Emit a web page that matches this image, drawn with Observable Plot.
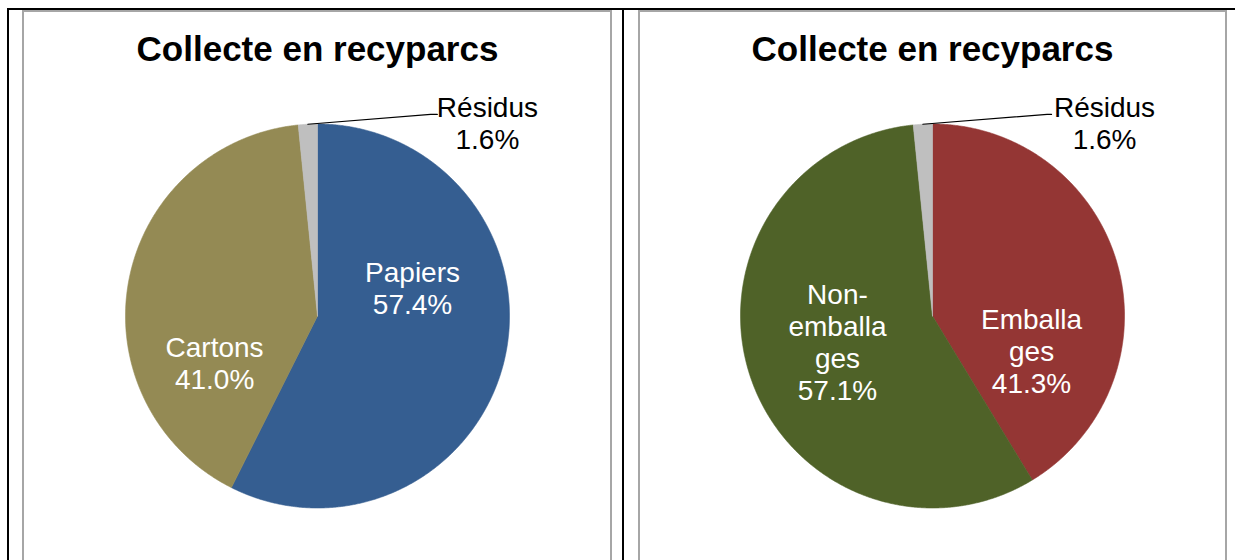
<!DOCTYPE html>
<html><head><meta charset="utf-8">
<script src="https://cdn.jsdelivr.net/npm/d3@7"></script>
<script src="https://cdn.jsdelivr.net/npm/@observablehq/plot@0.6"></script>
<style>
body{margin:0;background:#fff;width:1237px;height:560px;overflow:hidden;position:relative;font-family:"Liberation Sans",Arial,sans-serif}
.frame{position:absolute;box-sizing:content-box}
#chart{position:absolute;left:0;top:0}
</style></head><body>
<div class="frame" style="left:7px;top:8px;width:1226px;height:600px;border-top:2px solid #000;border-left:2px solid #000"></div>
<div class="frame" style="left:622px;top:8px;width:2px;height:600px;background:#000"></div>
<div class="frame" style="left:22px;top:10px;width:586px;height:600px;border:2px solid #a6a6a6;border-bottom:none"></div>
<div class="frame" style="left:638px;top:10px;width:585px;height:600px;border:2px solid #a6a6a6;border-bottom:none"></div>
<div id="chart"></div>
<script>
// ---- data ----
const titles = ["Collecte en recyparcs", "Collecte en recyparcs"];
const leftCategories = ["Papiers", "Cartons", "Résidus"];
const leftLabels = ["Papiers", "Cartons", "Résidus"];
const leftValues = [57.4, 41.0, 1.6];
const rightCategories = ["Emballages", "Non-emballages", "Résidus"];
const rightLabels = ["Emballa\nges", "Non-\nemballa\nges", "Résidus"];
const rightValues = [41.3, 57.1, 1.6];
const leftColors = ["#355E91", "#948A54", "#BFBFBF"];
const rightColors = ["#943634", "#4F6228", "#BFBFBF"];

// ---- layout ----
const W = 1237, H = 560;
const panels = [
  {cats: leftCategories, labels: leftLabels, values: leftValues, colors: leftColors, title: titles[0],
   cx: 317, cy: 315.5, r: 192,
   labelPos: [[0.495, -0.146], [-0.536, 0.242], [0.885, -1.008]],
   labelFill: ["white", "white", "black"],
   leader: [[0.589, -1.05], [0.624, -1.05]]},
  {cats: rightCategories, labels: rightLabels, values: rightValues, colors: rightColors, title: titles[1],
   cx: 932, cy: 315.5, r: 192,
   labelPos: [[0.516, 0.180], [-0.495, 0.135], [0.896, -1.008]],
   labelFill: ["white", "white", "black"],
   leader: [[0.597, -1.05], [0.62, -1.05]]}
];

const slicePts = [], labelRows = [], leaderPts = [], titleRows = [];
panels.forEach((p, pi) => {
  const arcs = d3.pie().sort(null).value(d => d)(p.values);
  arcs.forEach((a, i) => {
    const key = pi + "-" + i;
    slicePts.push({key, x: p.cx, y: p.cy, color: p.colors[i]});
    const n = Math.max(2, Math.ceil((a.endAngle - a.startAngle) / 0.005));
    for (let k = 0; k <= n; k++) {
      const t = a.startAngle + (a.endAngle - a.startAngle) * k / n;
      slicePts.push({key, x: p.cx + p.r * Math.sin(t), y: p.cy - p.r * Math.cos(t), color: p.colors[i]});
    }
    slicePts.push({key, x: p.cx, y: p.cy, color: p.colors[i]});
    const [fx, fy] = p.labelPos[i];
    labelRows.push({x: p.cx + fx * p.r, y: p.cy + fy * p.r,
      text: p.labels[i] + "\n" + p.values[i].toFixed(1) + "%", fill: p.labelFill[i]});
    if (i === arcs.length - 1) {
      const mid = (a.startAngle + a.endAngle) / 2;
      leaderPts.push({key: pi, x: p.cx + p.r * Math.sin(mid), y: p.cy - p.r * Math.cos(mid)});
      p.leader.forEach(([lx, ly]) => leaderPts.push({key: pi, x: p.cx + lx * p.r, y: p.cy + ly * p.r}));
    }
  });
  titleRows.push({x: p.cx, y: 60, text: p.title});
});

const chart = Plot.plot({
  width: W, height: H, margin: 0,
  x: {domain: [0, W], range: [0, W], axis: null},
  y: {domain: [0, H], range: [0, H], axis: null},
  style: {fontFamily: '"Liberation Sans", Arial, sans-serif', background: "transparent", overflow: "visible"},
  marks: [
    Plot.line(slicePts, {x: "x", y: "y", z: "key", fill: "color", stroke: "color", strokeWidth: 0.6, curve: "linear"}),
    Plot.line(leaderPts, {x: "x", y: "y", z: "key", stroke: "black", strokeWidth: 1.2}),
    Plot.text(labelRows, {x: "x", y: "y", text: "text", fill: "fill", fontSize: 28, lineHeight: 1.14, lineAnchor: "middle", textAnchor: "middle"}),
    Plot.text(titleRows, {x: "x", y: "y", text: "text", fontSize: 35, fontWeight: "bold", fill: "black", lineAnchor: "bottom", textAnchor: "middle"})
  ]
});
document.getElementById("chart").appendChild(chart);
</script>
</body></html>
